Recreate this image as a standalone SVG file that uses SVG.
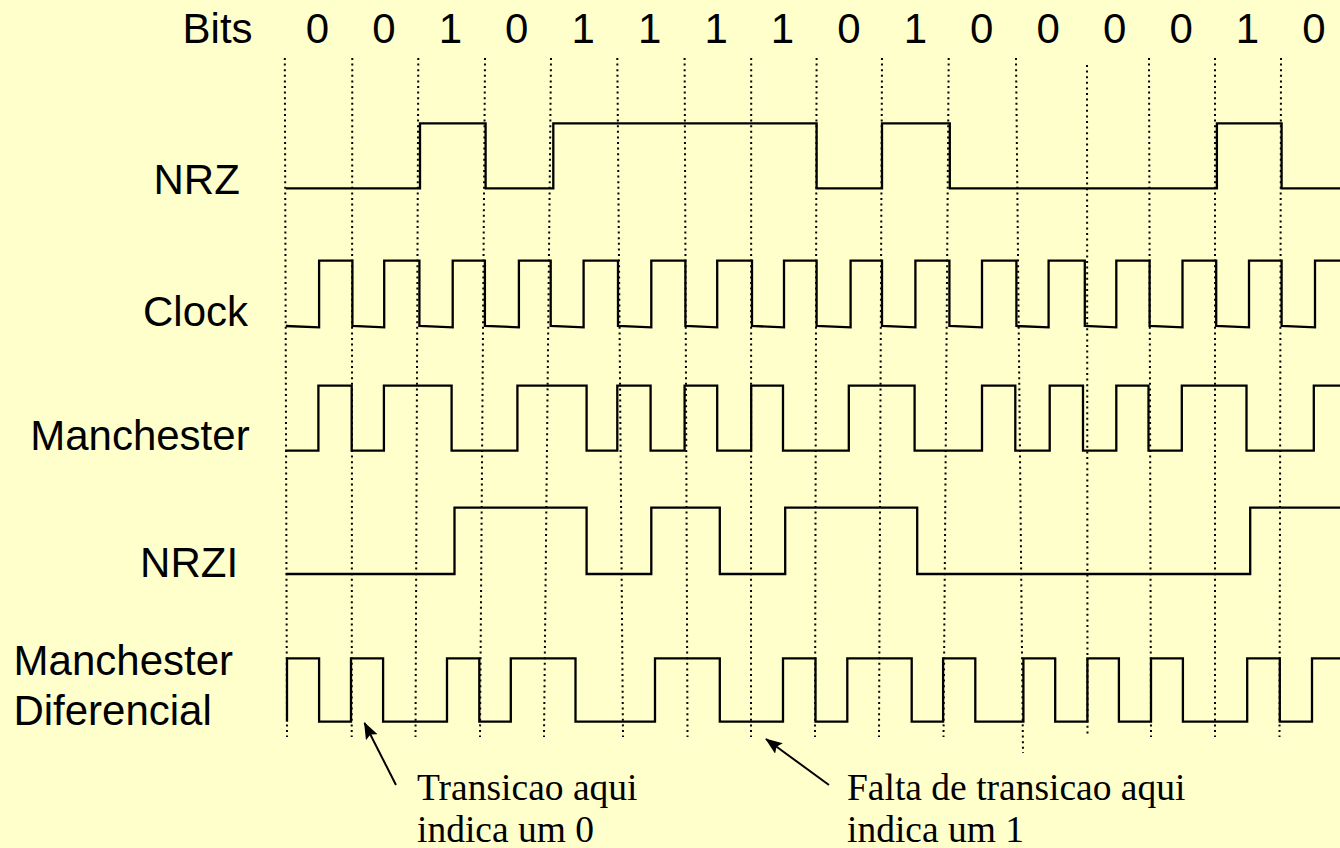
<svg xmlns="http://www.w3.org/2000/svg" width="1340" height="848" viewBox="0 0 1340 848">
  <style>
    .lbl { font-family: "Liberation Sans", Arial, sans-serif; font-size: 42px; fill: #000; }
    .bit { font-family: "Liberation Sans", Arial, sans-serif; font-size: 42px; fill: #000; text-anchor: middle; }
    .note { font-family: "Liberation Serif", "Times New Roman", serif; font-size: 37.5px; fill: #000; }
    .grid line { stroke: #000; stroke-width: 2; stroke-dasharray: 2 3.6; }
    .wave { fill: none; stroke: #000; stroke-width: 2.3; stroke-linejoin: miter; }
    .arrow { stroke: #000; stroke-width: 2; fill: none; }
  </style>
  <defs>
    <marker id="head" viewBox="0 0 17 13" refX="16" refY="6.5" markerWidth="17" markerHeight="13" markerUnits="userSpaceOnUse" orient="auto">
      <path d="M0,0 L17,6.5 L0,13 L3,6.5 z" fill="#000"/>
    </marker>
  </defs>

  <rect width="1340" height="848" fill="#FFFFCC"/>

  <!-- bit row -->
  <g id="bits">
    <text class="lbl" x="182.6" y="43.3">Bits</text>
    <text class="bit" x="317.5" y="43.3">0</text>
    <text class="bit" x="383.9" y="43.3">0</text>
    <text class="bit" x="450.4" y="43.3">1</text>
    <text class="bit" x="516.8" y="43.3">0</text>
    <text class="bit" x="583.2" y="43.3">1</text>
    <text class="bit" x="649.7" y="43.3">1</text>
    <text class="bit" x="716.1" y="43.3">1</text>
    <text class="bit" x="782.5" y="43.3">1</text>
    <text class="bit" x="848.9" y="43.3">0</text>
    <text class="bit" x="915.4" y="43.3">1</text>
    <text class="bit" x="981.8" y="43.3">0</text>
    <text class="bit" x="1048.2" y="43.3">0</text>
    <text class="bit" x="1114.7" y="43.3">0</text>
    <text class="bit" x="1181.1" y="43.3">0</text>
    <text class="bit" x="1247.5" y="43.3">1</text>
    <text class="bit" x="1314" y="43.3">0</text>
  </g>

  <!-- dotted bit boundaries -->
  <g id="grid" class="grid">
    <line x1="284.8" y1="58" x2="287" y2="737"/>
    <line x1="352.3" y1="58" x2="351.7" y2="737"/>
    <line x1="418.3" y1="58" x2="415.5" y2="737"/>
    <line x1="485" y1="58" x2="480" y2="737"/>
    <line x1="551" y1="58" x2="544" y2="737"/>
    <line x1="617.3" y1="58" x2="623" y2="737"/>
    <line x1="684.6" y1="58" x2="687.5" y2="737"/>
    <line x1="751.2" y1="58" x2="751" y2="737"/>
    <line x1="816.6" y1="58" x2="815" y2="737"/>
    <line x1="882" y1="58" x2="879" y2="737"/>
    <line x1="948.7" y1="58" x2="943.5" y2="737"/>
    <line x1="1016" y1="58" x2="1023" y2="753"/>
    <line x1="1087" y1="65" x2="1087.5" y2="737"/>
    <line x1="1149" y1="58" x2="1151" y2="737"/>
    <line x1="1215" y1="58" x2="1215" y2="737"/>
    <line x1="1281" y1="58" x2="1279.5" y2="737"/>
  </g>

  <g id="nrz">
    <text class="lbl" x="153.5" y="193.6">NRZ</text>
    <path class="wave" d="M285.8,188.3 H420 V123.3 H485.6 V188.3 H553.3 V123.3 H816.6 V188.3 H882 V123.3 H949.8 V188.3 H1216.9 V123.3 H1281.6 V188.3 H1340"/>
  </g>

  <g id="clock">
    <text class="lbl" x="143" y="326">Clock</text>
    <path class="wave" d="M285.8,326 L319.1,327.3 V260.7 H352.4 V326 L384.2,327.3 V260.7 H419.4 V326 L452.7,327.3 V260.7 H484.9 V326 L518.9,327.3 V260.7 H550.7 V326 L583.6,327.3 V260.7 H618 V326 L651.3,327.3 V260.7 H685.4 V326 L717.2,327.3 V260.7 H752 V326 L784,327.3 V260.7 H816.6 V326 L850.6,327.3 V260.7 H882 V326 L915.4,327.3 V260.7 H949.4 V326 L982,327.3 V260.7 H1016.4 V326 L1048.6,327.3 V260.7 H1084.8 V326 L1116.3,327.3 V260.7 H1149.6 V326 L1182.5,327.3 V260.7 H1216.2 V326 L1249,327.3 V260.7 H1281.6 V326 L1315,327.3 V260.7 H1340"/>
  </g>

  <g id="manchester">
    <text class="lbl" x="30.2" y="450">Manchester</text>
    <path class="wave" d="M285,450.7 H318.4 V385.7 H351.7 V450.7 H383.9 V385.7 H451.6 V450.7 H517.4 V385.7 H586.6 V450.7 H617.3 V385.7 H650.6 V450.7 H684.6 V385.7 H717.2 V450.7 H751.2 V385.7 H783 V450.7 H848.8 V385.7 H914.6 V450.7 H982 V385.7 H1015.3 V450.7 H1049.7 V385.7 H1083 V450.7 H1116.3 V385.7 H1148.5 V450.7 H1181.8 V385.7 H1246.5 V450.7 H1313.8 V385.7 H1340"/>
  </g>

  <g id="nrzi">
    <text class="lbl" x="140.1" y="577">NRZI</text>
    <path class="wave" d="M285.8,574 H454.5 V507.7 H586.6 V574 H651.3 V507.7 H719.8 V574 H785.2 V507.7 H917.2 V574 H1250.2 V507.7 H1340"/>
  </g>

  <g id="manchester-diferencial">
    <text class="lbl" x="13.6" y="675">Manchester</text>
    <text class="lbl" x="13.4" y="724.5">Diferencial</text>
    <path class="wave" d="M287,721.7 V658.3 H319.1 V721.7 H351 V658.3 H383.1 V721.7 H447 V658.3 H479.3 V721.7 H510.8 V658.3 H575.5 V721.7 H655 V658.3 H719.8 V721.7 H783 V658.3 H815.5 V721.7 H847.3 V658.3 H911.7 V721.7 H943.1 V658.3 H975.3 V721.7 H1023.4 V658.3 H1055.2 V721.7 H1087.4 V658.3 H1118.9 V721.7 H1151 V658.3 H1182.9 V721.7 H1247.2 V658.3 H1279.8 V721.7 H1312 V658.3 H1340"/>
  </g>

  <!-- annotation pointers -->
  <g id="connectors">
    <line class="arrow" x1="396" y1="785" x2="364.5" y2="723" marker-end="url(#head)"/>
    <line class="arrow" x1="829" y1="785" x2="766" y2="739" marker-end="url(#head)"/>
  </g>

  <g id="note-transicao">
    <text class="note" x="417" y="800">Transicao aqui</text>
    <text class="note" x="417" y="842">indica um 0</text>
  </g>
  <g id="note-falta">
    <text class="note" x="847" y="800">Falta de transicao aqui</text>
    <text class="note" x="847" y="842">indica um 1</text>
  </g>
</svg>
